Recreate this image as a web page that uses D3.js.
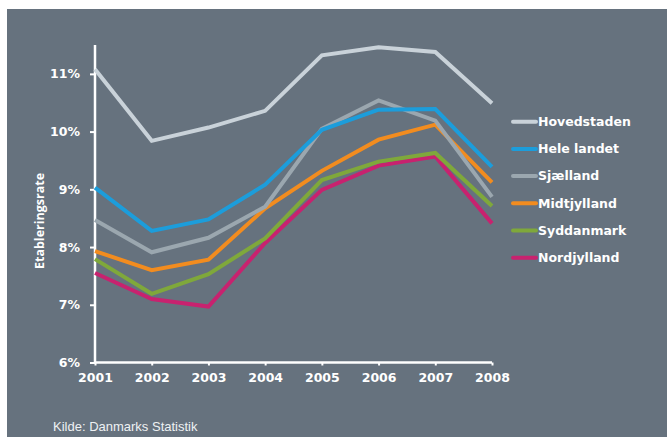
<!DOCTYPE html>
<html><head><meta charset="utf-8">
<script src="https://cdn.jsdelivr.net/npm/d3@7"></script>
<style>html,body{margin:0;padding:0;background:#fff}svg{display:block}</style>
</head><body>
<svg id="c" width="667" height="437"></svg>
<script>
const years = [2001,2002,2003,2004,2005,2006,2007,2008];
const yTicks = [6,7,8,9,10,11];
const seriesNames = ["Hovedstaden","Hele landet","Sjælland","Midtjylland","Syddanmark","Nordjylland"];
const seriesColors = ["#c9d2d9","#1c9ddb","#9ba7af","#f28c1f","#7fa83b","#c8226f"];
const hovedstaden = [11.08,9.84,10.07,10.36,11.32,11.46,11.38,10.49];
const heleLandet  = [9.03,8.28,8.48,9.08,10.03,10.38,10.39,9.39];
const sjaelland   = [8.47,7.91,8.16,8.70,10.05,10.54,10.19,8.87];
const midtjylland = [7.93,7.60,7.78,8.67,9.32,9.86,10.12,9.12];
const syddanmark  = [7.79,7.19,7.53,8.15,9.16,9.48,9.63,8.71];
const nordjylland = [7.55,7.10,6.97,8.07,8.99,9.41,9.57,8.41];
const seriesValues = [hovedstaden,heleLandet,sjaelland,midtjylland,syddanmark,nordjylland];
const yLabel = "Etableringsrate";
const source = "Kilde: Danmarks Statistik";

const svg = d3.select("#c");
svg.append("rect").attr("x",7).attr("y",9).attr("width",660).attr("height",428).attr("fill","#66727e");

const x = d3.scaleLinear().domain([2001,2008]).range([95,492]);
const y = d3.scaleLinear().domain([6,11.5]).range([362.5,45]);
const font = "DejaVu Sans, sans-serif";

const yAxis = svg.append("g").attr("transform","translate(95,0)")
  .call(d3.axisLeft(y).tickValues(yTicks).tickFormat(d=>d+"%").tickSize(5).tickPadding(10));
const xAxis = svg.append("g").attr("transform","translate(0,362.5)")
  .call(d3.axisBottom(x).tickValues(years).tickFormat(d3.format("d")).tickSize(3).tickPadding(8));
[yAxis,xAxis].forEach(g=>{
  g.select(".domain").attr("stroke","#fff").attr("stroke-width",2.5);
  g.selectAll(".tick line").attr("stroke","#fff").attr("stroke-width",2);
  g.selectAll("text").attr("fill","#fff").attr("font-family",font).attr("font-weight","bold").attr("font-size","12.5px");
});
yAxis.select(".domain").attr("d","M0,45V362.5");
xAxis.select(".domain").attr("d","M95,0H492");

svg.append("text").attr("transform","translate(44,221) rotate(-90)")
  .attr("text-anchor","middle").attr("fill","#fff").attr("font-family","Open Sans, sans-serif")
  .attr("font-weight","bold").attr("font-size","12.5px").text(yLabel);

const line = d3.line().x((d,i)=>x(years[i])).y(d=>y(d));
seriesValues.slice().reverse().forEach((vals,ri)=>{
  const i = seriesValues.length-1-ri;
  svg.append("path").attr("d",line(vals)).attr("fill","none")
    .attr("stroke",seriesColors[i]).attr("stroke-width",4).attr("stroke-linejoin","miter");
});

const leg = svg.append("g");
seriesNames.forEach((n,i)=>{
  const yy = 121.7 + i*27.2;
  leg.append("line").attr("x1",513).attr("x2",536).attr("y1",yy).attr("y2",yy)
    .attr("stroke",seriesColors[i]).attr("stroke-width",4).attr("stroke-linecap","round");
  leg.append("text").attr("x",538).attr("y",yy).attr("dy","0.35em").attr("fill","#fff")
    .attr("font-family",font).attr("font-weight","bold").attr("font-size","12.5px").text(n);
});

svg.append("text").attr("x",53).attr("y",431).attr("fill","#eef1f3")
  .attr("font-family","Liberation Sans Narrow, Arial Narrow, sans-serif").attr("font-size","13px").text(source);
</script>
</body></html>
